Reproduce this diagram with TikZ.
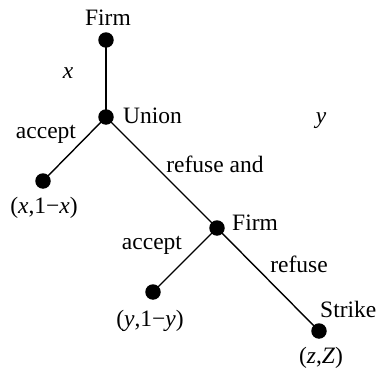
\documentclass[tikz,border=0pt]{standalone}
\usepackage{fontspec}
\setmainfont{Liberation Serif}
\begin{document}
\begin{tikzpicture}[x=1pt,y=-1pt,
  dot/.style={circle,fill=black,inner sep=0pt,minimum size=15.5pt},
  lbl/.style={font=\fontsize{23.5}{27}\selectfont,inner sep=0pt,anchor=base},
  branch/.style={line width=1.4pt}]
\useasboundingbox[fill=white] (0,0) rectangle (376,370);
\node[dot] (f1) at (106,40) {};
\node[dot] (u) at (106,117) {};
\node[dot] (l1) at (43,181) {};
\node[dot] (f2) at (217,228) {};
\node[dot] (l2) at (153,292) {};
\node[dot] (s) at (319,331) {};
\draw[branch] (f1.center) -- (u.center);
\draw[branch] (u.center) -- (l1.center);
\draw[branch] (u.center) -- (f2.center);
\draw[branch] (f2.center) -- (l2.center);
\draw[branch] (f2.center) -- (s.center);
\node[lbl] (tf1) at (108,25) {Firm};
\node[lbl] (tx) at (68,78) {\textit{x}};
\node[lbl,anchor=base west] (tu) at (123,123) {Union};
\node[lbl] (ta1) at (46,138) {accept};
\node[lbl] (ty) at (321,123) {\textit{y}};
\node[lbl] (tl1) at (44,213) {(\textit{x},1\char"2212\textit{x})};
\node[lbl] (tra) at (215,172) {refuse and};
\node[lbl,anchor=base west] (tf2) at (232,230) {Firm};
\node[lbl] (ta2) at (152,249) {accept};
\node[lbl] (tl2) at (150,326) {(\textit{y},1\char"2212\textit{y})};
\node[lbl] (tr) at (299,272) {refuse};
\node[lbl,anchor=base west] (ts) at (320,317) {Strike};
\node[lbl] (tz) at (321,363) {(\textit{z},\textit{Z})};
\end{tikzpicture}
\end{document}
